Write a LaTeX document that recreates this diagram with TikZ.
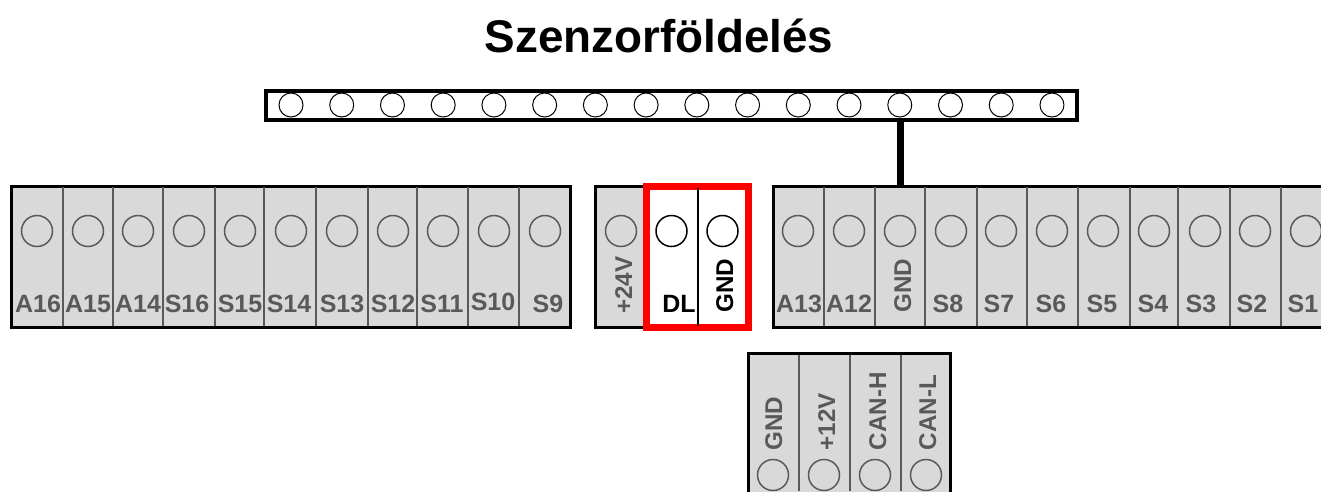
\documentclass[tikz,border=0pt]{standalone}
\usepackage{fontspec}
\setmainfont{Liberation Sans}
\definecolor{tgray}{HTML}{595959}
\definecolor{tfill}{HTML}{D9D9D9}
\definecolor{tred}{HTML}{FF0000}
\tikzset{
  x=1pt,y=-1pt,
  stripbox/.style={draw=black,line width=3.2pt,fill=tfill,inner sep=0pt,anchor=north west},
  barbox/.style={draw=black,line width=4pt,fill=white,inner sep=0pt,anchor=north west},
  redbox/.style={draw=tred,line width=7.4pt,fill=white,inner sep=0pt,anchor=north west},
  pin/.style={circle,draw=tgray,line width=1.5pt,inner sep=0pt,minimum size=31pt},
  pinblack/.style={circle,draw=black,line width=1.5pt,inner sep=0pt,minimum size=31pt},
  pinbar/.style={circle,draw=black,line width=1pt,inner sep=0pt,minimum size=24pt},
  divider/.style={draw=tgray,line width=1.6pt},
  lab/.style={font=\fontsize{25}{26}\selectfont\bfseries,text=tgray,inner sep=0pt,anchor=base},
  rlab/.style={font=\fontsize{24.2}{26}\selectfont\bfseries,text=tgray,inner sep=0pt,rotate=90,anchor=base west},
  labblack/.style={text=black},
  titletext/.style={font=\fontsize{45.8}{50}\selectfont\bfseries,text=black,inner sep=0pt,anchor=base}
}
\begin{document}
\begin{tikzpicture}
\clip (0,0) rectangle (1321,491);
\fill[white] (0,0) rectangle (1321,491);
\node[titletext] (title) at (659,52) {Szenzorföldelés};

% top bar
\node[barbox,minimum width=811pt,minimum height=29.5pt] (bar) at (264.2,88.5) {};
\foreach \i in {1,...,16} {
  \pgfmathsetmacro{\px}{291+(\i-1)*50.73}
  \node[pinbar] (t\i) at (\px,105) {};
}

% left strip
\node[stripbox,minimum width=559pt,minimum height=141.5pt] (left) at (9.5,184.5) {};
\foreach \d in {63,113,163,215,264,316,368,417,468,519}
  \draw[divider] (\d,187) -- (\d,326);
\foreach \x/\n in {37/l1,88/l2,138/l3,189/l4,240/l5,291/l6,342/l7,393/l8,443/l9,494/l10,545/l11}
  \node[pin] (\n) at (\x,231) {};
\foreach \x/\t in {38/A16,88/A15,138/A14,187/S16,240/S15,289/S14,342/S13,393/S12,442/S11,548/S9}
  \node[lab] at (\x,312.5) {\t};
\node[lab] (s10) at (493,310) {S10};

% middle strip
\node[stripbox,minimum width=60pt,minimum height=141.5pt] (mid) at (594,184.5) {};
\node[pin] (m1) at (621,231) {};
\node[rlab] (m24) at (632,314) {+24V};
\node[redbox,minimum width=102pt,minimum height=141pt] (red) at (643,183) {};
\draw[draw=black,line width=1.6pt] (698,188) -- (698,326);
\node[pinblack] (m2) at (671.5,231) {};
\node[pinblack] (m3) at (722.5,231) {};
\node[lab,labblack] (dl) at (679,312.5) {DL};
\node[rlab,labblack] (mg) at (733,312.5) {GND};

% right strip
\node[stripbox,minimum width=580pt,minimum height=141.5pt] (right) at (772,184.5) {};
\foreach \d in {824,875,925,977,1027,1078,1130,1178,1230,1281}
  \draw[divider] (\d,187) -- (\d,326);
\foreach \x/\n in {798/r1,849/r2,900/r3,951/r4,1001/r5,1052/r6,1103/r7,1154/r8,1205/r9,1255/r10,1306/r11}
  \node[pin] (\n) at (\x,231) {};
\foreach \x/\t in {799/A13,849/A12,948/S8,999/S7,1051/S6,1102/S5,1153/S4,1201/S3,1252/S2,1303/S1}
  \node[lab] at (\x,312.5) {\t};
\node[rlab] (rg) at (911,312.5) {GND};

% wire
\coordinate (wiretop) at (t13.center |- bar.south);
\coordinate (wirebot) at (t13.center |- right.north);
\draw[black,line width=7pt] ([xshift=1pt]wiretop) -- ([xshift=1pt]wirebot);

% bottom strip
\node[stripbox,minimum width=202pt,minimum height=160pt] (bot) at (746.5,352) {};
\foreach \d in {799,850,901}
  \draw[divider] (\d,355) -- (\d,491);
\foreach \x/\n in {773/b1,824/b2,875/b3,926/b4}
  \node[pin] (\n) at (\x,475) {};
\foreach \x/\t in {782/GND,835/+12V,886/CAN-H,936/CAN-L}
  \node[rlab] at (\x,450.5) {\t};
\end{tikzpicture}
\end{document}
